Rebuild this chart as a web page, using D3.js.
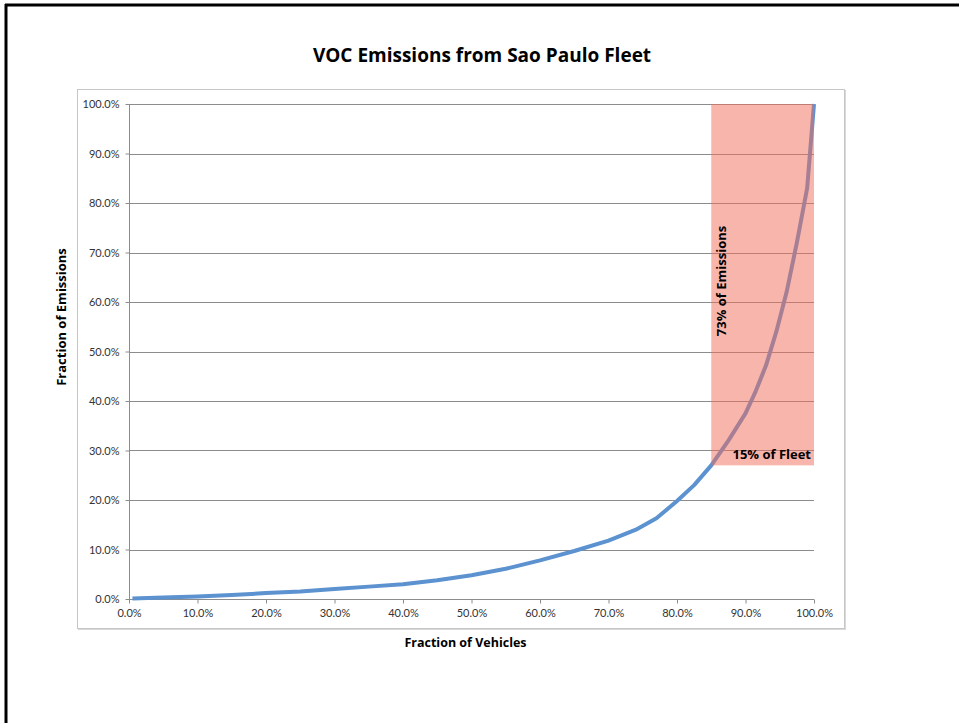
<!DOCTYPE html>
<html>
<head>
<meta charset="utf-8">
<script src="https://cdn.jsdelivr.net/npm/d3@7"></script>
<style>
  html, body { margin: 0; padding: 0; background: #fff; }
  svg { display: block; }
</style>
</head>
<body>
<svg id="chart" width="959" height="723"></svg>
<script>
// ---- data ----
const fleetFraction = [0.005, 0.05, 0.10, 0.15, 0.20, 0.25, 0.30, 0.35, 0.40, 0.45, 0.50, 0.55, 0.60, 0.65, 0.70, 0.74, 0.77, 0.80, 0.825, 0.85, 0.875, 0.90, 0.915, 0.93, 0.945, 0.96, 0.975, 0.99, 1.00];
const emissionFraction = [0.001, 0.003, 0.005, 0.008, 0.012, 0.015, 0.020, 0.025, 0.030, 0.038, 0.048, 0.061, 0.078, 0.097, 0.118, 0.140, 0.163, 0.198, 0.230, 0.270, 0.320, 0.375, 0.420, 0.472, 0.540, 0.620, 0.720, 0.830, 1.000];
const xTicks = [0, 0.1, 0.2, 0.3, 0.4, 0.5, 0.6, 0.7, 0.8, 0.9, 1.0];
const yTicks = [0, 0.1, 0.2, 0.3, 0.4, 0.5, 0.6, 0.7, 0.8, 0.9, 1.0];
const highlightFleetStart = [0.85];      // top 15% of fleet
const highlightEmissionStart = [0.27];   // emits 73%
const titleText = "VOC Emissions from Sao Paulo Fleet";
const xTitle = "Fraction of Vehicles";
const yTitle = "Fraction of Emissions";
const annotFleet = "15% of Fleet";
const annotEmissions = "73% of Emissions";

const svg = d3.select("#chart");
const W = 959, H = 723;
const plot = { left: 129, right: 814, top: 104, bottom: 599 };

const x = d3.scaleLinear().domain([0, 1]).range([plot.left, plot.right]);
const y = d3.scaleLinear().domain([0, 1]).range([plot.bottom, plot.top]);
const fmt = d3.format(".1%");

// outer black border (top & left)
svg.append("line").attr("x1", 5).attr("x2", W).attr("y1", 5).attr("y2", 5)
  .attr("stroke", "#000").attr("stroke-width", 3);
svg.append("line").attr("x1", 6).attr("x2", 6).attr("y1", 4).attr("y2", H)
  .attr("stroke", "#000").attr("stroke-width", 3);

// chart frame with light shadow
svg.append("rect").attr("x", 78).attr("y", 90).attr("width", 768).attr("height", 540)
  .attr("fill", "#d9d9d9");
svg.append("rect").attr("x", 77.5).attr("y", 89.5).attr("width", 767).attr("height", 539)
  .attr("fill", "#fff").attr("stroke", "#c6c6c6").attr("stroke-width", 1);

// title
svg.append("text").attr("x", 482).attr("y", 62).attr("text-anchor", "middle")
  .attr("font-family", "'Open Sans', sans-serif").attr("font-weight", "bold")
  .attr("font-size", 19).attr("fill", "#000").text(titleText);

// gridlines
svg.append("g").selectAll("line").data(yTicks.filter(d => d > 0)).join("line")
  .attr("x1", plot.left).attr("x2", plot.right)
  .attr("y1", d => Math.round(y(d)) + 0.5).attr("y2", d => Math.round(y(d)) + 0.5)
  .attr("stroke", "#8c8c8c").attr("stroke-width", 1);

// y axis
const yAxis = svg.append("g").attr("transform", `translate(${plot.left + 0.5},0)`)
  .call(d3.axisLeft(y).tickValues(yTicks).tickFormat(fmt).tickSize(4).tickPadding(6));
// x axis
const xAxis = svg.append("g").attr("transform", `translate(0,${plot.bottom + 0.5})`)
  .call(d3.axisBottom(x).tickValues(xTicks).tickFormat(fmt).tickSize(4).tickPadding(6));
[yAxis, xAxis].forEach(a => {
  a.selectAll("path").attr("stroke", "#8c8c8c");
  a.selectAll(".tick line").attr("stroke", "#8c8c8c");
  a.selectAll("text").attr("font-family", "Lato, 'Open Sans', sans-serif")
    .attr("font-size", 11).attr("fill", "#333");
});
xAxis.select(".domain").attr("d", `M${plot.left},0H${plot.right}`);
yAxis.select(".domain").attr("d", `M0,${plot.bottom}V${plot.top}`);

// curve
const pts = fleetFraction.map((f, i) => [f, emissionFraction[i]]);
svg.append("path").datum(pts)
  .attr("d", d3.line().x(d => x(d[0])).y(d => y(d[1])))
  .attr("fill", "none").attr("stroke", "#5b92cf").attr("stroke-width", 4)
  .attr("stroke-linejoin", "round");

// highlight rectangle (translucent, on top)
svg.append("rect")
  .attr("x", x(highlightFleetStart[0])).attr("y", y(1))
  .attr("width", x(1) - x(highlightFleetStart[0]))
  .attr("height", y(highlightEmissionStart[0]) - y(1))
  .attr("fill", "#f26b5a").attr("fill-opacity", 0.5);

// annotations
svg.append("text").attr("transform", `translate(${x(highlightFleetStart[0]) + 15},${281}) rotate(-90)`)
  .attr("text-anchor", "middle")
  .attr("font-family", "'Open Sans', sans-serif").attr("font-weight", "bold")
  .attr("font-size", 13).attr("fill", "#000").text(annotEmissions);
svg.append("text").attr("x", x(1) - 3).attr("y", y(highlightEmissionStart[0]) - 6)
  .attr("text-anchor", "end")
  .attr("font-family", "'Open Sans', sans-serif").attr("font-weight", "bold")
  .attr("font-size", 13).attr("fill", "#000").text(annotFleet);

// axis titles
svg.append("text").attr("x", (plot.left + plot.right) / 2 - 6).attr("y", 647)
  .attr("text-anchor", "middle")
  .attr("font-family", "'Open Sans', sans-serif").attr("font-weight", "bold")
  .attr("font-size", 12.5).attr("fill", "#000").text(xTitle);
svg.append("text").attr("transform", `translate(66,317) rotate(-90)`)
  .attr("text-anchor", "middle")
  .attr("font-family", "'Open Sans', sans-serif").attr("font-weight", "bold")
  .attr("font-size", 13).attr("fill", "#000").text(yTitle);
</script>
</body>
</html>
